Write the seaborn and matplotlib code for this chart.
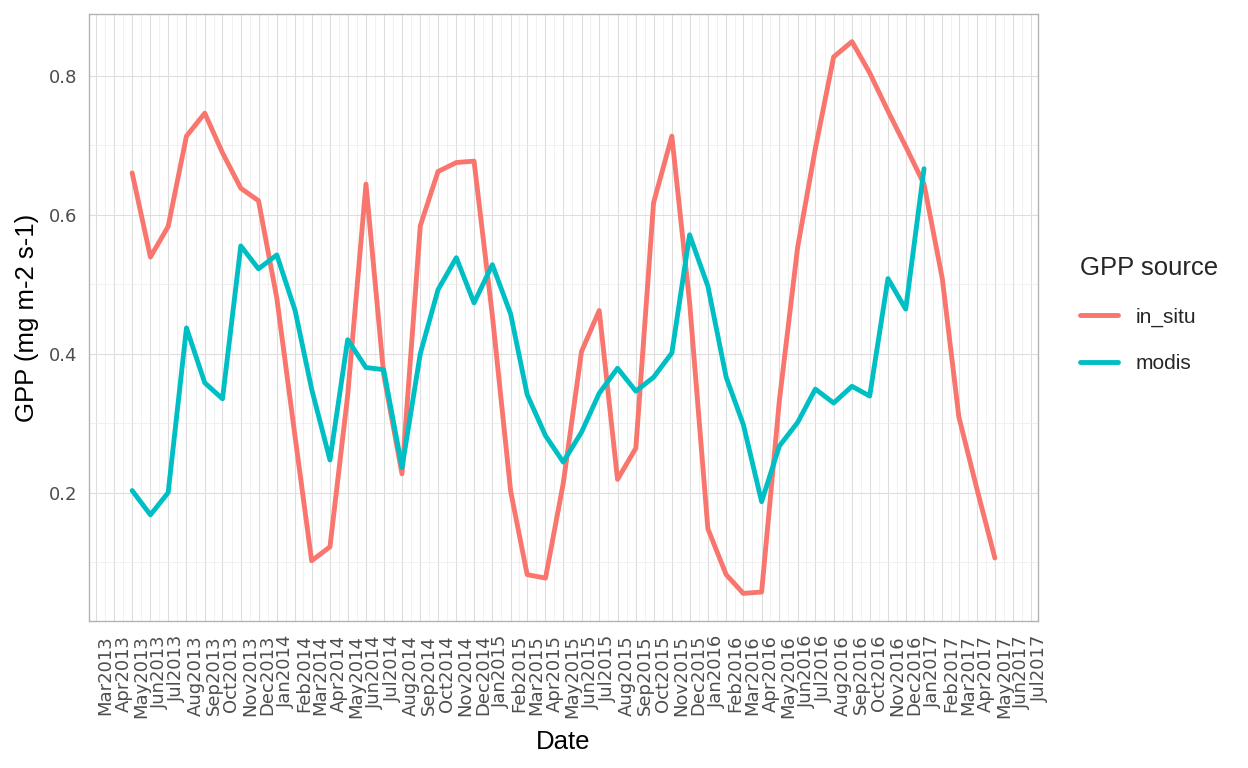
import numpy as np
import pandas as pd
import seaborn as sns
import matplotlib.pyplot as plt
import matplotlib.dates as mdates
from matplotlib.ticker import MultipleLocator, FixedLocator

# monthly GPP values
in_situ_start = "2013-05-01"
in_situ = [0.660, 0.539, 0.583, 0.713, 0.746, 0.689, 0.638, 0.620,
           0.480, 0.280, 0.102, 0.122, 0.340, 0.644, 0.370, 0.227,
           0.584, 0.662, 0.675, 0.677, 0.455, 0.202, 0.082, 0.077,
           0.213, 0.403, 0.462, 0.219, 0.264, 0.617, 0.713, 0.474,
           0.148, 0.082, 0.055, 0.057, 0.332, 0.553, 0.695, 0.827,
           0.849, 0.804, 0.749, 0.698, 0.644, 0.508, 0.309, 0.204,
           0.106]
modis_start = "2013-05-01"
modis = [0.203, 0.168, 0.200, 0.437, 0.358, 0.335, 0.555, 0.522,
         0.542, 0.462, 0.349, 0.247, 0.420, 0.380, 0.377, 0.236,
         0.400, 0.492, 0.538, 0.473, 0.528, 0.457, 0.341, 0.282,
         0.244, 0.287, 0.343, 0.379, 0.346, 0.366, 0.401, 0.571,
         0.497, 0.366, 0.298, 0.187, 0.267, 0.301, 0.349, 0.329,
         0.353, 0.339, 0.508, 0.464, 0.666]
sources = ["in_situ", "modis"]
colors = ["#F8766D", "#00BFC4"]

df = pd.concat([
    pd.DataFrame({"Date": pd.date_range(in_situ_start, periods=len(in_situ), freq="MS"),
                  "GPP": in_situ, "GPP source": "in_situ"}),
    pd.DataFrame({"Date": pd.date_range(modis_start, periods=len(modis), freq="MS"),
                  "GPP": modis, "GPP source": "modis"}),
], ignore_index=True)

sns.set_theme(style="white")
plt.rcParams["font.family"] = ["Liberation Sans", "DejaVu Sans"]

fig = plt.figure(figsize=(12.48, 7.68), dpi=100)
ax = fig.add_axes([89 / 1248, 1 - 621 / 768, (1038 - 89) / 1248, (621 - 14) / 768])

sns.lineplot(data=df, x="Date", y="GPP", hue="GPP source", hue_order=sources,
             palette=colors, linewidth=3.5, ax=ax, zorder=3)

# ggplot-style 5% expansion
x0 = mdates.date2num(df["Date"].min())
x1 = mdates.date2num(df["Date"].max())
dx = (x1 - x0) * 0.05
ax.set_xlim(x0 - dx, x1 + dx)
y0, y1 = df["GPP"].min(), df["GPP"].max()
dy = (y1 - y0) * 0.05
ax.set_ylim(y0 - dy, y1 + dy)

# monthly ticks, minor ticks halfway between months
months = pd.date_range("2013-02-01", "2017-08-01", freq="MS")
mnum = mdates.date2num(months)
ax.xaxis.set_major_locator(mdates.MonthLocator())
ax.xaxis.set_major_formatter(mdates.DateFormatter("%b%Y"))
ax.xaxis.set_minor_locator(FixedLocator((mnum[:-1] + mnum[1:]) / 2))
ax.yaxis.set_major_locator(MultipleLocator(0.2))
ax.yaxis.set_minor_locator(MultipleLocator(0.1))
ax.yaxis.set_major_formatter(plt.FuncFormatter(lambda v, p: f"{v:.1f}"))

ax.grid(True, which="major", color="#DEDEDE", linewidth=0.8, zorder=0)
ax.grid(True, which="minor", color="#EBEBEB", linewidth=0.5, zorder=0)
ax.set_axisbelow(True)
for s in ax.spines.values():
    s.set_color("#B3B3B3")
    s.set_linewidth(1.0)

ax.tick_params(which="major", length=5, width=0.8, color="#B3B3B3",
               labelsize=13, labelcolor="#4D4D4D")
ax.tick_params(axis="x", which="major", pad=5)
ax.tick_params(axis="y", which="major", pad=3.5)
ax.tick_params(which="minor", length=0)
for lab in ax.get_xticklabels() + ax.get_yticklabels():
    lab.set_family("DejaVu Sans")
for lab in ax.get_xticklabels():
    lab.set_rotation(90)
    lab.set_ha("left")
    lab.set_va("top")

ax.set_xlabel("Date", fontsize=18.5, color="black")
ax.set_ylabel("GPP (mg m-2 s-1)", fontsize=18.5, color="black")
ax.xaxis.set_label_coords(0.5, (621 - 730) / 607)
ax.yaxis.set_label_coords((39 - 89) / 949, 0.5)

handles, labels = ax.get_legend_handles_labels()
ax.legend(handles, labels, title="GPP source", loc="upper left",
          bbox_to_anchor=(1070 / 1248, 1 - 246 / 768), bbox_transform=fig.transFigure,
          frameon=False, fontsize=15, title_fontsize=18.5, handlelength=1.8,
          handletextpad=0.85, labelspacing=1.3, borderpad=0, alignment="left")

fig.savefig("out.png", dpi=100)
